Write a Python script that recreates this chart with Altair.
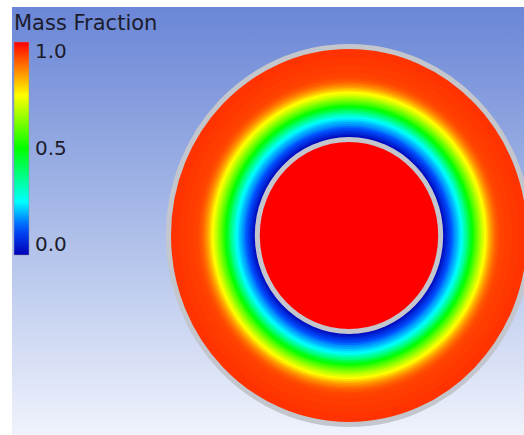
import altair as alt
import pandas as pd

# Radial profile of the mass fraction across the annulus (radius in mm)
annulus_radius = [26.0, 26.5, 27.0, 27.5, 28.0, 28.5, 29.0, 29.5, 30.0, 30.5,
                  31.0, 31.5, 32.0, 32.5, 33.0, 33.5, 34.0, 34.5, 35.0, 35.5,
                  36.0, 36.5, 37.0, 37.5, 38.0, 38.5, 39.0, 39.5, 40.0, 40.5,
                  41.0, 41.5, 42.0, 43.0, 44.0, 45.0, 46.0, 47.0, 48.0, 49.0, 50.0]
annulus_fraction = [0.00, 0.02, 0.045, 0.07, 0.095, 0.12, 0.145, 0.17, 0.19, 0.21,
                    0.235, 0.26, 0.30, 0.34, 0.38, 0.43, 0.47, 0.51, 0.55, 0.585,
                    0.62, 0.655, 0.69, 0.72, 0.75, 0.78, 0.815, 0.845, 0.87, 0.89,
                    0.91, 0.92, 0.93, 0.935, 0.94, 0.94, 0.945, 0.945, 0.95, 0.95, 0.95]

# Inner tube
core_radius = [25.4]
core_fraction = [1.0]

# Wall outlines (inner tube wall, outer pipe wall)
wall_radius = [25.4, 50.0]

# Legend colour map
cmap_stops = [0.0, 0.125, 0.25, 0.5, 0.75, 1.0]
cmap_colors = ["#0000b4", "#0050ff", "#00ffff", "#00ff00", "#ffff00", "#ff0000"]

field = pd.DataFrame({
    "radius": core_radius + annulus_radius,
    "fraction": core_fraction + annulus_fraction,
})
walls = pd.DataFrame({"radius": wall_radius})

# Unit ellipse (slightly narrower horizontally) as a custom symbol path
a, k = 0.955, 0.5523
ka = k * a
ELLIPSE = (f"M 0 -1 C {ka:.4f} -1 {a} {-k} {a} 0 "
           f"C {a} {k} {ka:.4f} 1 0 1 "
           f"C {-ka:.4f} 1 {-a} {k} {-a} 0 "
           f"C {-a} {-k} {-ka:.4f} -1 0 -1 Z")

W, H = 512, 428

x_scale = alt.Scale(domain=[-93.35, 48.48], nice=False, zero=False)
y_scale = alt.Scale(domain=[-52.78, 60.45], nice=False, zero=False)
size_scale = alt.Scale(type="pow", exponent=2, domain=[0, 50], range=[0, 142884])

center_x = alt.X(datum=0, type="quantitative", scale=x_scale, axis=None)
center_y = alt.Y(datum=0, type="quantitative", scale=y_scale, axis=None)

text_color = "#1c1c2c"

# Viewport background: blue at the top fading to near white
backdrop = alt.Chart(pd.DataFrame({"v": [0]})).mark_rect(
    color=alt.LinearGradient(
        gradient="linear",
        x1=0, x2=0, y1=0, y2=1,
        stops=[
            alt.GradientStop(offset=0.0, color="#6a86d6"),
            alt.GradientStop(offset=0.5, color="#a9bbe8"),
            alt.GradientStop(offset=1.0, color="#f0f3fc"),
        ],
    )
).encode(
    x=alt.value(0), x2=alt.value(W), y=alt.value(0), y2=alt.value(H)
)

contours = alt.Chart(field).mark_point(
    shape=ELLIPSE, filled=True, opacity=1, strokeWidth=0
).encode(
    x=center_x,
    y=center_y,
    size=alt.Size("radius:Q", scale=size_scale, legend=None),
    color=alt.Color(
        "fraction:Q",
        scale=alt.Scale(domain=cmap_stops, range=cmap_colors, interpolate="rgb"),
        legend=alt.Legend(
            title="Mass Fraction",
            orient="none",
            legendX=2,
            legendY=6,
            direction="vertical",
            values=[0.0, 0.5, 1.0],
            format=".1f",
            gradientLength=213,
            gradientThickness=15,
            gradientStrokeColor="#8a8c9a",
            gradientStrokeWidth=0.5,
            titleFont="DejaVu Sans",
            titleFontSize=21,
            titleFontWeight="normal",
            titleColor=text_color,
            titlePadding=8,
            titleLimit=300,
            labelFont="DejaVu Sans",
            labelFontSize=20,
            labelColor=text_color,
            labelBaseline="top",
            labelOffset=6,
            padding=0,
        ),
    ),
    order=alt.Order("radius:Q", sort="descending"),
)

wall_lines = alt.Chart(walls).mark_point(
    shape=ELLIPSE, filled=False, fill=None, stroke="#c4c6cd", strokeWidth=5, opacity=1
).encode(
    x=center_x,
    y=center_y,
    size=alt.Size("radius:Q", scale=size_scale, legend=None),
)

chart = alt.layer(backdrop, contours, wall_lines).properties(
    width=W,
    height=H,
    padding={"left": 12, "top": 7, "right": 0, "bottom": 0},
    autosize="none",
    background="white",
).configure_view(stroke=None)

chart.save("out.html", embed_options={"renderer": "svg", "actions": False})
